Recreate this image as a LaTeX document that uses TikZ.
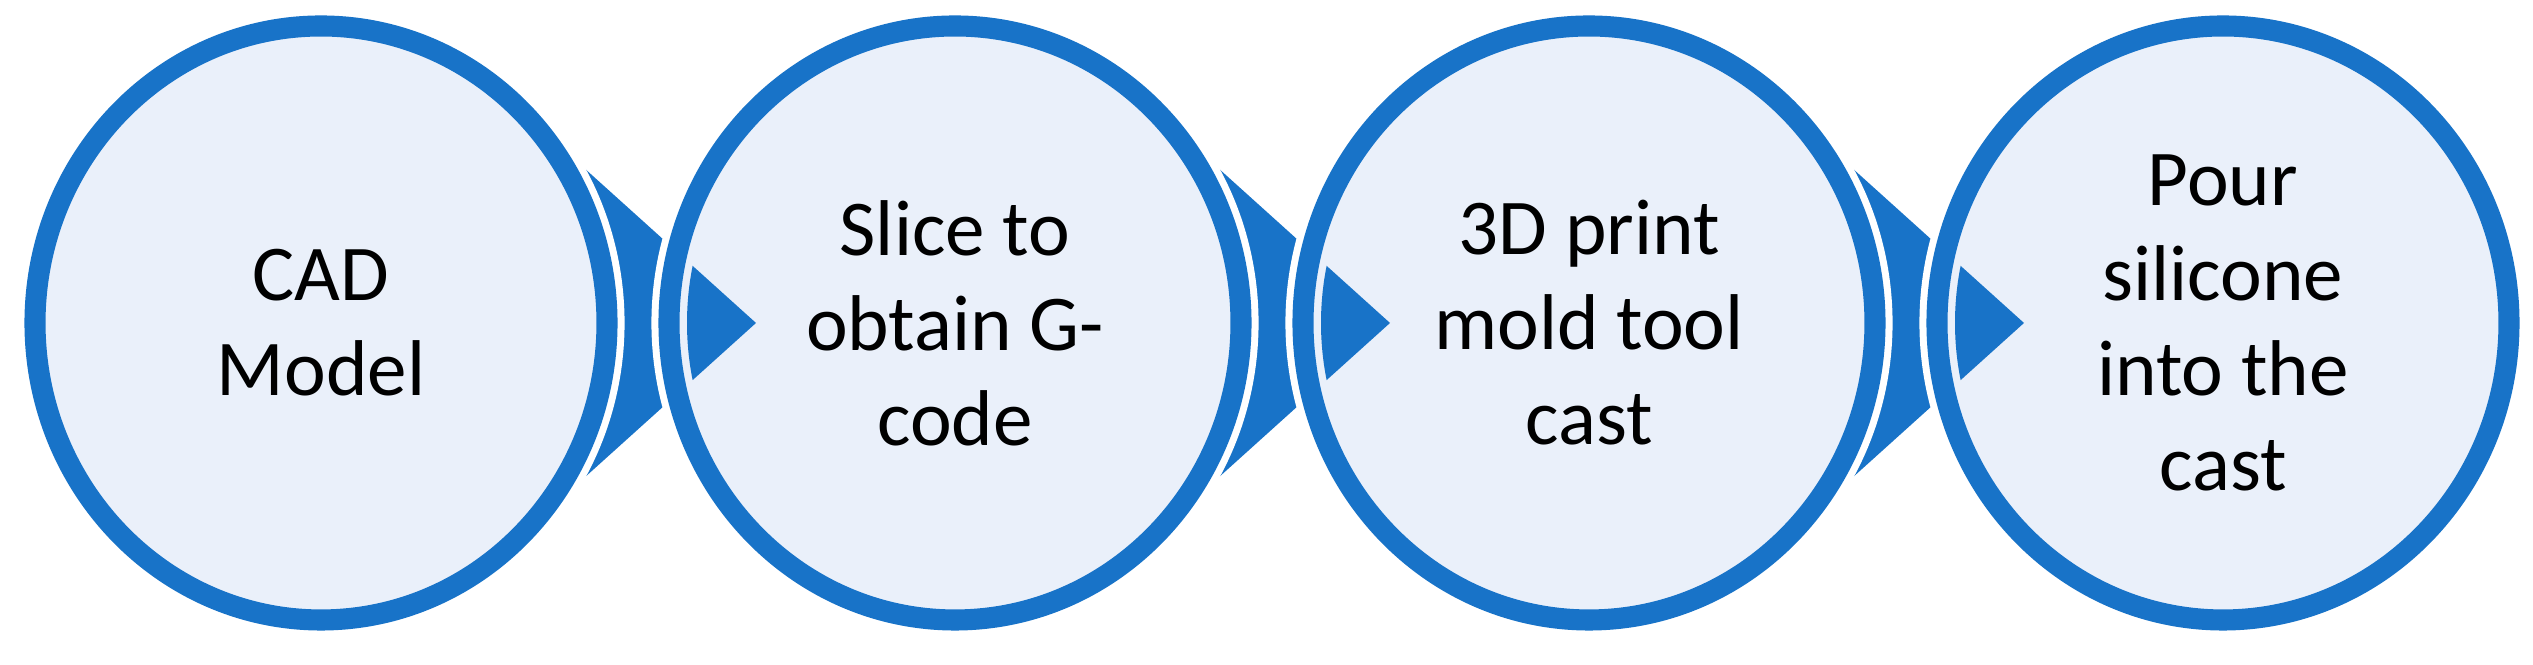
\documentclass[tikz,border=0pt]{standalone}
\usepackage{fontspec}
\setmainfont{Carlito}
\definecolor{bl}{RGB}{24,115,200}
\definecolor{lf}{RGB}{234,240,250}
\tikzset{
  stagecirc/.style={fill=lf,draw=bl,line width=6pt},
  ptr/.style={fill=bl},
  lbl/.style={align=center,font=\fontsize{22.5}{27}\selectfont,text=black}
}
\begin{document}
\begin{tikzpicture}
\useasboundingbox (0,0) rectangle (25.33,6.65);
\def\rx{2.86}\def\ry{2.97}\def\cy{3.42}
\foreach \i/\cx in {1/3.21,2/9.55,3/15.89}{
  \coordinate (t\i) at (\cx+4.35,\cy);
  \fill[ptr] (\cx+\rx*0.68,\cy+\ry*0.73) -- (t\i) -- (\cx+\rx*0.68,\cy-\ry*0.73) -- cycle;
}
\foreach \i/\cx/\t in {1/3.21/{CAD\\Model},2/9.55/{Slice to\\obtain G-\\code},3/15.89/{3D print\\mold tool\\cast},4/22.23/{Pour\\silicone\\into the\\cast}}{
  \draw[white,line width=10pt] (\cx,\cy) ellipse ({\rx} and {\ry});
  \draw[stagecirc] (\cx,\cy) ellipse ({\rx} and {\ry});
  \node[lbl] (n\i) at (\cx,\cy) {\t};
}
\foreach \i/\cx in {1/3.21,2/9.55,3/15.89}{
  \begin{scope}
  \clip (\cx+6.34,\cy) ellipse ({\rx-0.18} and {\ry-0.18});
  \fill[ptr] (\cx+\rx*0.68,\cy+\ry*0.73) -- (\cx+4.35,\cy) -- (\cx+\rx*0.68,\cy-\ry*0.73) -- cycle;
  \end{scope}
}
\end{tikzpicture}
\end{document}
